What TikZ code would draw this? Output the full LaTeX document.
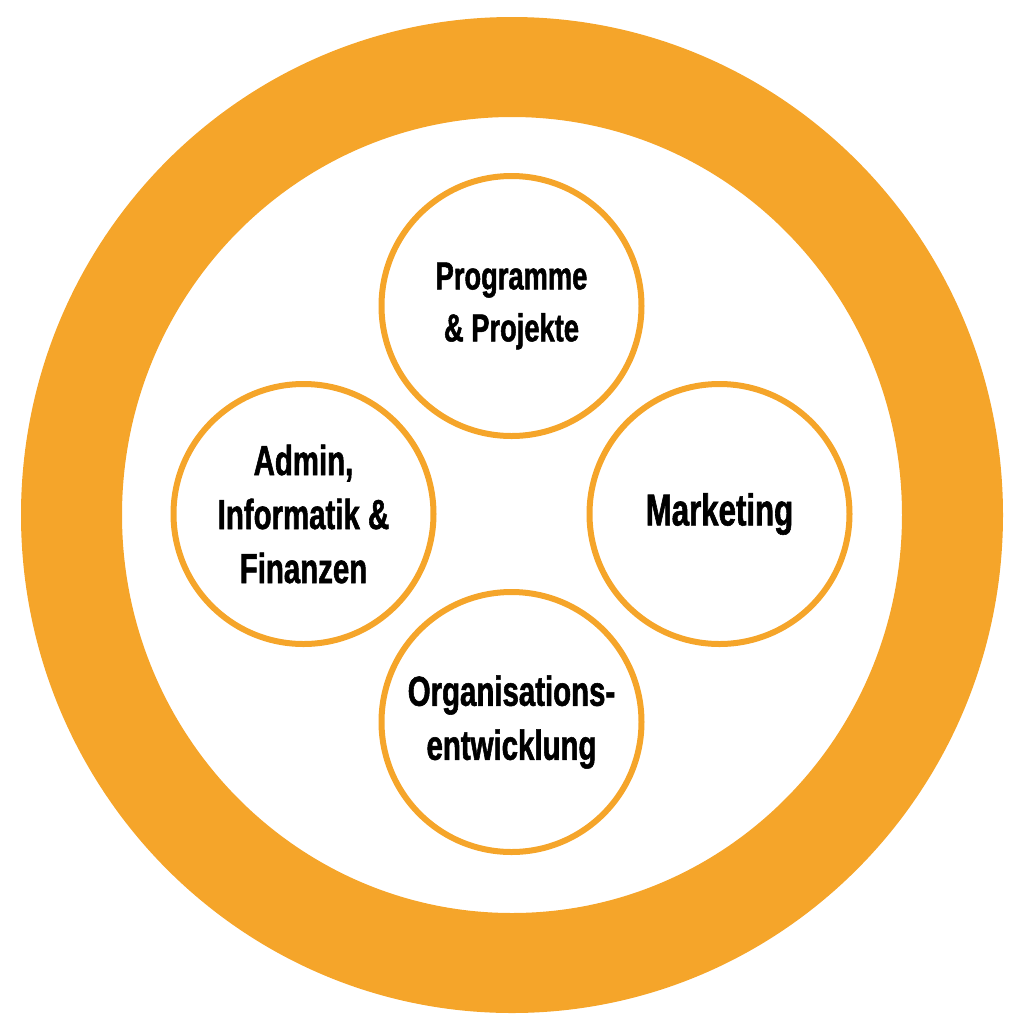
\documentclass[tikz,border=0pt]{standalone}
\usepackage{fontspec}
\newfontfamily\labelfont{Liberation Sans}[FakeStretch=0.70, FakeBold=1.3]
\usetikzlibrary{positioning}
\definecolor{ringorange}{HTML}{F5A52A}

\begin{document}
\begin{tikzpicture}[x=0.5pt, y=-0.5pt, node distance=104pt]
    \tikzset{area/.style={draw=ringorange, line width=3pt, shape=circle, minimum size=130pt, inner sep=0pt, align=center, font=\labelfont\bfseries\fontsize{21}{27}\selectfont}}
    \useasboundingbox (0,0) rectangle (1022,1024);
    \fill[ringorange, even odd rule] (512,515) ellipse [x radius=245.5pt, y radius=249pt]
                                     (512,515) ellipse [x radius=195pt, y radius=199pt];
    \node (centre) at (511.5,514) {};
    \node[area, above of = centre, font=\labelfont\bfseries\fontsize{19.5}{26}\selectfont] (prog) {Programme\\\& Projekte};
    \node[area, left of = centre] (admin) {Admin,\\Informatik \&\\Finanzen};
    \node[area, right of = centre, font=\labelfont\bfseries\fontsize{22.3}{27}\selectfont] (market) {Marketing};
    \node[area, below of = centre] (org) {Organisations-\\entwicklung};
\end{tikzpicture}
\end{document}
